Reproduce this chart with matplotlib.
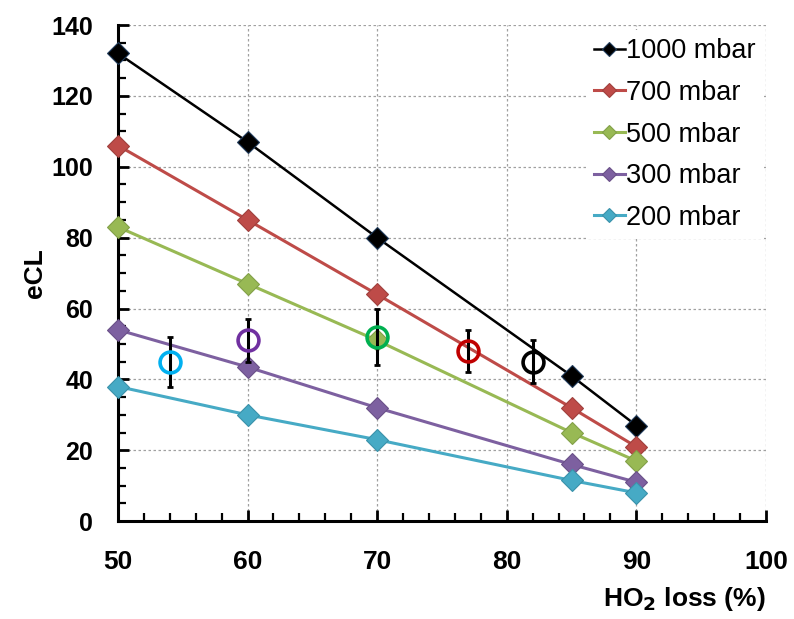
import matplotlib
matplotlib.use("Agg")
import matplotlib.pyplot as plt
from matplotlib.ticker import MultipleLocator

# --- data ---
ho2_loss = [50, 60, 70, 85, 90]
ecl_1000 = [132, 107, 80, 41, 27]
ecl_700 = [106, 85, 64, 32, 21]
ecl_500 = [83, 67, 51, 25, 17]
ecl_300 = [54, 43.5, 32, 16, 11]
ecl_200 = [38, 30, 23, 11.5, 8]

series_labels = ["1000 mbar", "700 mbar", "500 mbar", "300 mbar", "200 mbar"]
series_colors = ["#000000", "#BE4B48", "#98B954", "#7D60A0", "#46AAC5"]
edge_colors = ["#1F3A5A", "#A0403D", "#82A048", "#6A5088", "#3A92AA"]

# measured points with error bars
meas_x = [54, 60, 70, 77, 82]
meas_y = [45, 51, 52, 48, 45]
meas_err = [7, 6, 8, 6, 6]
meas_colors = ["#00B0F0", "#7030A0", "#00B050", "#C00000", "#000000"]

plt.rcParams["font.family"] = ["Liberation Sans", "DejaVu Sans"]

fig = plt.figure(figsize=(7.94, 6.19), dpi=100)
ax = fig.add_axes([0.1486, 0.158, 0.816, 0.8016])

all_y = [ecl_1000, ecl_700, ecl_500, ecl_300, ecl_200]
for ys, lab, c, ec in zip(all_y, series_labels, series_colors, edge_colors):
    lw = 1.8 if c == "#000000" else 2.2
    ax.plot(ho2_loss, ys, "-", color=c, lw=lw, marker="D", ms=11.5,
            mfc=c, mec=ec, mew=0.8, label=lab, zorder=3, clip_on=False)

for x, y, e, c in zip(meas_x, meas_y, meas_err, meas_colors):
    ax.errorbar(x, y, yerr=e, fmt="none", ecolor="black", elinewidth=2.2,
                capsize=2.5, capthick=2, zorder=4)
    ax.plot(x, y, "o", ms=15, mfc="none", mec=c, mew=2.6, zorder=5)

ax.set_xlim(50, 100)
ax.set_ylim(0, 140)
ax.xaxis.set_major_locator(MultipleLocator(10))
ax.xaxis.set_minor_locator(MultipleLocator(2))
ax.yaxis.set_major_locator(MultipleLocator(20))
ax.yaxis.set_minor_locator(MultipleLocator(5))

for s in ["top", "right"]:
    ax.spines[s].set_visible(False)
for s in ["left", "bottom"]:
    ax.spines[s].set_linewidth(2.2)

ax.tick_params(axis="both", which="major", direction="in", length=8, width=2)
ax.tick_params(axis="both", which="minor", direction="in", length=6, width=1.6)
ax.tick_params(axis="y", which="major", pad=18, labelsize=18)
ax.tick_params(axis="x", which="major", pad=21, labelsize=19)
for t in ax.get_yticklabels() + ax.get_xticklabels():
    t.set_fontweight("bold")

ax.grid(True, which="major", color="#A0A0A0", ls=(0, (2, 2)), lw=0.9)
ax.set_axisbelow(True)

ax.set_ylabel("eCL", fontsize=19, fontweight="bold", labelpad=3)
ax.set_xlabel("HO$_\\mathbf{2}$ loss (%)", fontsize=19, fontweight="bold")
ax.xaxis.set_label_coords(1.0, -0.157)
ax.xaxis.label.set_horizontalalignment("right")
ax.xaxis.label.set_verticalalignment("center")

leg = ax.legend(loc="upper right", bbox_to_anchor=(0.997, 0.99), fontsize=19.5,
                handlelength=1.15, handletextpad=0.05, borderaxespad=0,
                borderpad=0.3, labelspacing=0.58, markerscale=0.6,
                fancybox=False, framealpha=1)
leg.get_frame().set_edgecolor("none")
leg.get_frame().set_facecolor("white")

fig.savefig("out.png", dpi=100)
